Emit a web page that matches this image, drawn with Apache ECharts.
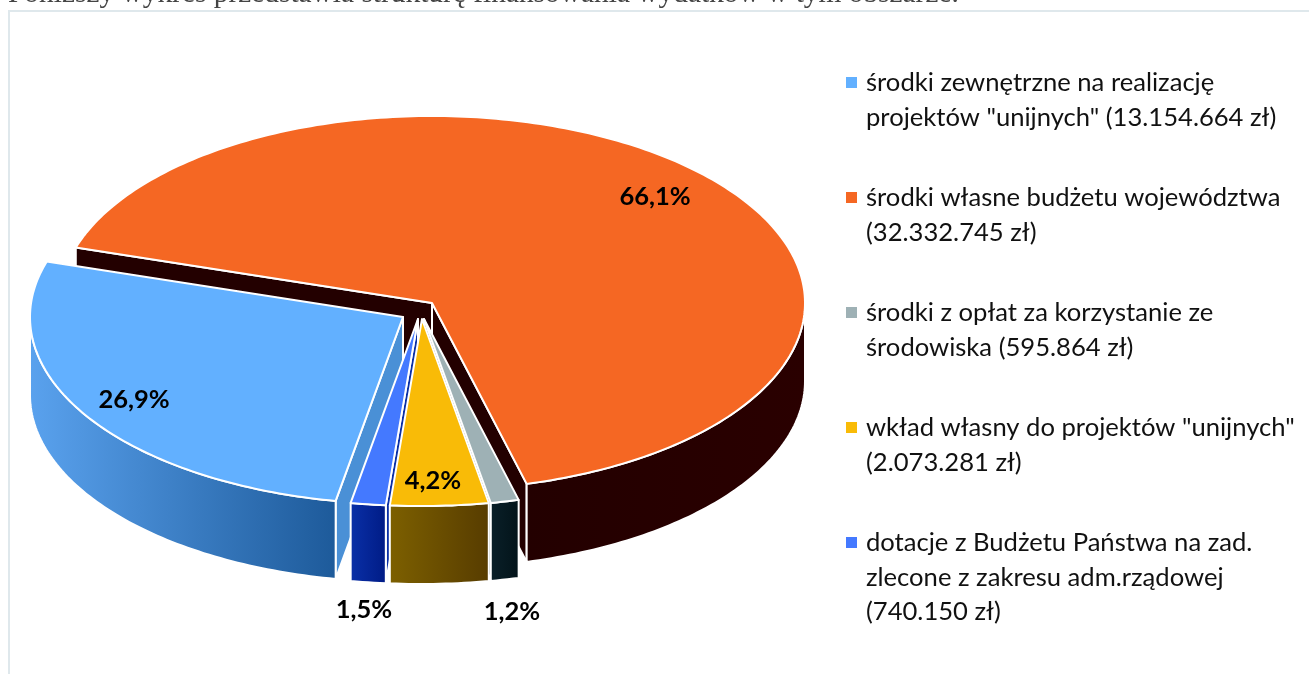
<!DOCTYPE html>
<html><head><meta charset="utf-8">
<style>html,body{margin:0;padding:0;background:#fff}#c{width:1309px;height:674px}</style>
<script src="https://cdn.jsdelivr.net/npm/echarts@6/dist/echarts.min.js"></script>
</head><body><div id="c"></div>
<script>
// data (legend order)
const names = [
  'środki zewnętrzne na realizację\nprojektów "unijnych" (13.154.664 zł)',
  'środki własne budżetu województwa\n(32.332.745 zł)',
  'środki z opłat za korzystanie ze\nśrodowiska (595.864 zł)',
  'wkład własny do projektów "unijnych"\n(2.073.281 zł)',
  'dotacje z Budżetu Państwa na zad.\nzlecone z zakresu adm.rządowej\n(740.150 zł)'
];
const values = [13154664, 32332745, 595864, 2073281, 740150];
const heading = 'Poniższy wykres przedstawia strukturę finansowania wydatków w tym obszarze.';

// styles & layout
const topColors = ['#62b0ff', '#f56723', '#9eb1b5', '#f9bb07', '#4479ff'];
const cutColors = ['#4a90d6', '#230000', '#0a1f26', '#6b4f00', '#0a2fa5'];
const wallStops = [['#5aa2ee', '#1d5a9a'], ['#230000', '#2a0000'], ['#0a2029', '#021319'], ['#7d6000', '#573c00'], ['#0a30a8', '#001b85']];
const pull = [[-14, 4], [15, -10], [7, 6], [5, 6], [1, 6]];
const labelPos = [[134, 400], [655, 197], [512, 612], [433, 481], [364, 610]];
const drawOrder = [1, 0, 2, 4, 3];
const C = {x: 417, y: 313, rx: 373, ry: 187, depth: 78, startAngle: 190.4};

const total = values.reduce((a, b) => a + b, 0);
const spans = values.map(v => v / total * 360);
const starts = [];
spans.reduce((a, s, i) => { starts[i] = a; return a + s; }, C.startAngle);

function pt(cx, cy, deg, dz) {
  const t = deg * Math.PI / 180;
  return [cx + C.rx * Math.sin(t), cy - C.ry * Math.cos(t) + (dz || 0)];
}
function arc(cx, cy, a, b, dz) {
  const out = [], n = Math.max(2, Math.ceil(Math.abs(b - a)));
  for (let i = 0; i <= n; i++) out.push(pt(cx, cy, a + (b - a) * i / n, dz));
  return out;
}
function poly(points, fill) {
  return {type: 'polygon', shape: {points}, style: {fill, stroke: '#fff', lineWidth: 2, lineJoin: 'round'}};
}
function renderSlice(i) {
  return function () {
    const cx = C.x + pull[i][0], cy = C.y + pull[i][1];
    const a = starts[i], b = a + spans[i];
    const kids = [];
    const sinDeg = d => Math.sin(d * Math.PI / 180);
    [[a, sinDeg(a) < 0], [b, sinDeg(b) > 0]].forEach(([d, visible]) => {
      if (!visible) return;
      const p = pt(cx, cy, d), q = pt(cx, cy, d, C.depth);
      kids.push(poly([[cx, cy], p, q, [cx, cy + C.depth]], cutColors[i]));
    });
    for (const k of [0, 1]) {
      const lo = Math.max(a, k === 0 ? 90 : 450), hi = Math.min(b, k === 0 ? 270 : 630);
      if (hi > lo) {
        const top = arc(cx, cy, lo, hi), bot = arc(cx, cy, hi, lo, C.depth);
        kids.push(poly(top.concat(bot), new echarts.graphic.LinearGradient(0, 0, 1, 0, [
          {offset: 0, color: wallStops[i][0]}, {offset: 1, color: wallStops[i][1]}])));
      }
    }
    kids.push(poly([[cx, cy]].concat(arc(cx, cy, a, b)), topColors[i]));
    kids.push({type: 'text', z2: 100, style: {
      x: labelPos[i][0], y: labelPos[i][1],
      text: (values[i] / total * 100).toFixed(1).replace('.', ',') + '%',
      fill: '#000', font: 'bold 25.5px Lato', align: 'center', verticalAlign: 'middle'}});
    return {type: 'group', children: kids};
  };
}

const LEG = {markX: 846, textX: 866, tops: [66, 181, 296, 411, 526], line: 34.5, size: 25.6};
const graphic = [
  {type: 'rect', shape: {x: 8, y: 10, width: 1400, height: 2}, style: {fill: '#dfe8ec'}},
  {type: 'rect', shape: {x: 8, y: 10, width: 2, height: 700}, style: {fill: '#dfe8ec'}},
  {type: 'text', style: {x: 8, y: 9, text: heading, fill: '#444', font: '29.4px "Liberation Serif"', verticalAlign: 'bottom'}}
];
names.forEach((n, i) => {
  graphic.push({type: 'rect', shape: {x: LEG.markX, y: LEG.tops[i] + 11, width: 11, height: 11}, style: {fill: topColors[i]}});
  n.split('\n').forEach((t, j) => graphic.push({type: 'text', style: {
    x: LEG.textX, y: LEG.tops[i] + 17 + j * LEG.line, text: t, fill: '#111',
    font: LEG.size + 'px Lato', verticalAlign: 'middle'}}));
});

const chart = echarts.init(document.getElementById('c'), null, {renderer: 'canvas'});
chart.setOption({
  animation: false,
  backgroundColor: '#fff',
  graphic: {elements: graphic},
  series: drawOrder.map(i => ({
    type: 'custom', name: names[i], coordinateSystem: 'none', silent: true,
    clip: false, renderItem: renderSlice(i), data: [values[i]],
    itemStyle: {color: topColors[i]}
  }))
});
</script></body></html>
